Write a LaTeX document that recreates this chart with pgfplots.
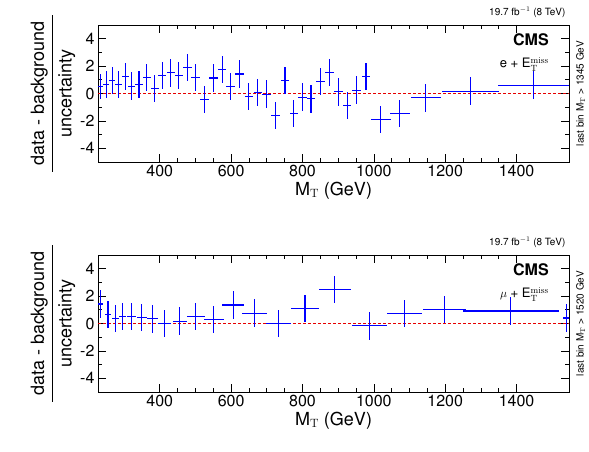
\documentclass[border=0pt]{standalone}
\usepackage{pgfplots}
\pgfplotsset{compat=1.18}
\usepackage[T1]{fontenc}
\usepackage{helvet}
\renewcommand\familydefault{\sfdefault}
\definecolor{dblue}{RGB}{0,0,255}
\definecolor{dred}{RGB}{230,0,0}
\begin{document}
\begin{tikzpicture}
\useasboundingbox (0pt,0pt) rectangle (589pt,452pt);
\pgfplotsset{
 panel/.style={width=471pt,height=137pt,scale only axis,
  xmin=227,xmax=1547,ymin=-5,ymax=5,
  xtick={400,600,...,1400},ytick={-4,-2,0,2,4},
  minor x tick num=3, minor y tick num=1,
  tick align=inside, xtick pos=both, ytick pos=both,
  major tick length=8pt, minor tick length=4pt,
  tick style={black,line width=0.6pt}, axis line style={line width=0.9pt},
  /pgf/number format/assume math mode=true,
  /pgf/number format/1000 sep={},
  ticklabel style={font=\fontsize{16}{16}\selectfont},
  xlabel={M$_\mathrm{T}$ (GeV)},
  xlabel style={font=\fontsize{18}{18}\selectfont, yshift=2pt},
  ylabel={\begin{tabular}{c}data - background\\[2pt]\hline\rule{0pt}{19pt}uncertainty\end{tabular}},
  ylabel style={font=\fontsize{18}{20}\selectfont, yshift=-4pt},
  clip=false},
 dat/.style={draw=none,mark=none,
  error bars/.cd, x dir=both,y dir=both,x explicit,y explicit,error mark=none,
  error bar style={draw=dblue,solid,line width=1.1pt}}
}
\begin{axis}[panel, at={(98pt,427pt)}, anchor=north west]
\addplot[draw=dred,dash pattern=on 3pt off 2pt,line width=1.2pt,forget plot] coordinates {(227,0)(1547,0)};
\addplot[dat] coordinates {
(234,0.5)+-(8,0.9) (250,0.66)+-(8,1) (267,0.95)+-(9,1) (284,0.64)+-(9,1)
(303,1.23)+-(10,1) (321,0.54)+-(10,1) (342,0.66)+-(10,1) (364,1.18)+-(11,1)
(386,0.37)+-(11,1) (407,1.33)+-(11,1) (431,1.5)+-(11,1) (453,1.3)+-(11,1)
(478,1.9)+-(12,1) (501,1.18)+-(12,1) (525,-0.42)+-(12,1) (550,1.13)+-(12,1)
(575,1.77)+-(12,1) (599,0.5)+-(12,1) (624,1.42)+-(12,1) (650,-0.2)+-(12,1)
(675,0.07)+-(12,1) (700,-0.05)+-(12,1) (725,-1.62)+-(12,1) (751,0.96)+-(12,1)
(776,-1.47)+-(12,1) (800,-0.27)+-(12,1) (824,-0.39)+-(12,1) (850,0.86)+-(12,1)
(875,1.55)+-(12,1) (901,0.12)+-(12,1) (925,-0.88)+-(12,1) (952,0.25)+-(12,1)
(978,1.23)+-(12,1) (1019,-1.89)+-(28,1) (1073,-1.47)+-(28,1) (1146,-0.32)+-(42,1)
(1271,0.17)+-(80,1) (1447,0.61)+-(100,1)};
\node[anchor=north east,font=\bfseries\fontsize{16}{16}\selectfont] at (axis cs:1500,4.6) {CMS};
\node[anchor=north east,font=\fontsize{13}{13}\selectfont] at (axis cs:1500,2.9) {e + E$_\mathrm{T}^\mathrm{miss}$};
\node[anchor=south east,font=\fontsize{10}{10}\selectfont] at (axis cs:1547,5.3) {19.7 fb$^{-1}$ (8 TeV)};
\node[rotate=90,font=\fontsize{10}{10}\selectfont] at (axis cs:1580,0) {last bin M$_\mathrm{T}$ > 1345 GeV};
\end{axis}
\begin{axis}[panel, at={(98pt,197pt)}, anchor=north west]
\addplot[draw=dred,dash pattern=on 3pt off 2pt,line width=1.2pt,forget plot] coordinates {(227,0)(1547,0)};
\addplot[dat] coordinates {
(234,1.42)+-(8,1) (255,0.66)+-(9,1) (275,0.37)+-(10,1) (295,0.5)+-(10,1)
(320,0.52)+-(13,1) (350,0.44)+-(14,1) (380,0.34)+-(15,1) (414,0)+-(18,1)
(456,0.17)+-(20,1) (501,0.52)+-(25,1) (551,0.27)+-(28,1) (606,1.35)+-(31,1)
(666,0.76)+-(35,1) (732,0)+-(35,1) (807,1.1)+-(40,1) (891,2.5)+-(45,1)
(987,-0.17)+-(49,1) (1087,0.74)+-(49,1) (1198,1.03)+-(59,1) (1384,0.91)+-(135,1)
(1539,0.4)+-(8,1)};
\node[anchor=north east,font=\bfseries\fontsize{16}{16}\selectfont] at (axis cs:1500,4.6) {CMS};
\node[anchor=north east,font=\fontsize{13}{13}\selectfont] at (axis cs:1500,2.9) {$\mu$ + E$_\mathrm{T}^\mathrm{miss}$};
\node[anchor=south east,font=\fontsize{10}{10}\selectfont] at (axis cs:1547,5.3) {19.7 fb$^{-1}$ (8 TeV)};
\node[rotate=90,font=\fontsize{10}{10}\selectfont] at (axis cs:1580,0) {last bin M$_\mathrm{T}$ > 1520 GeV};
\end{axis}
\end{tikzpicture}
\end{document}
